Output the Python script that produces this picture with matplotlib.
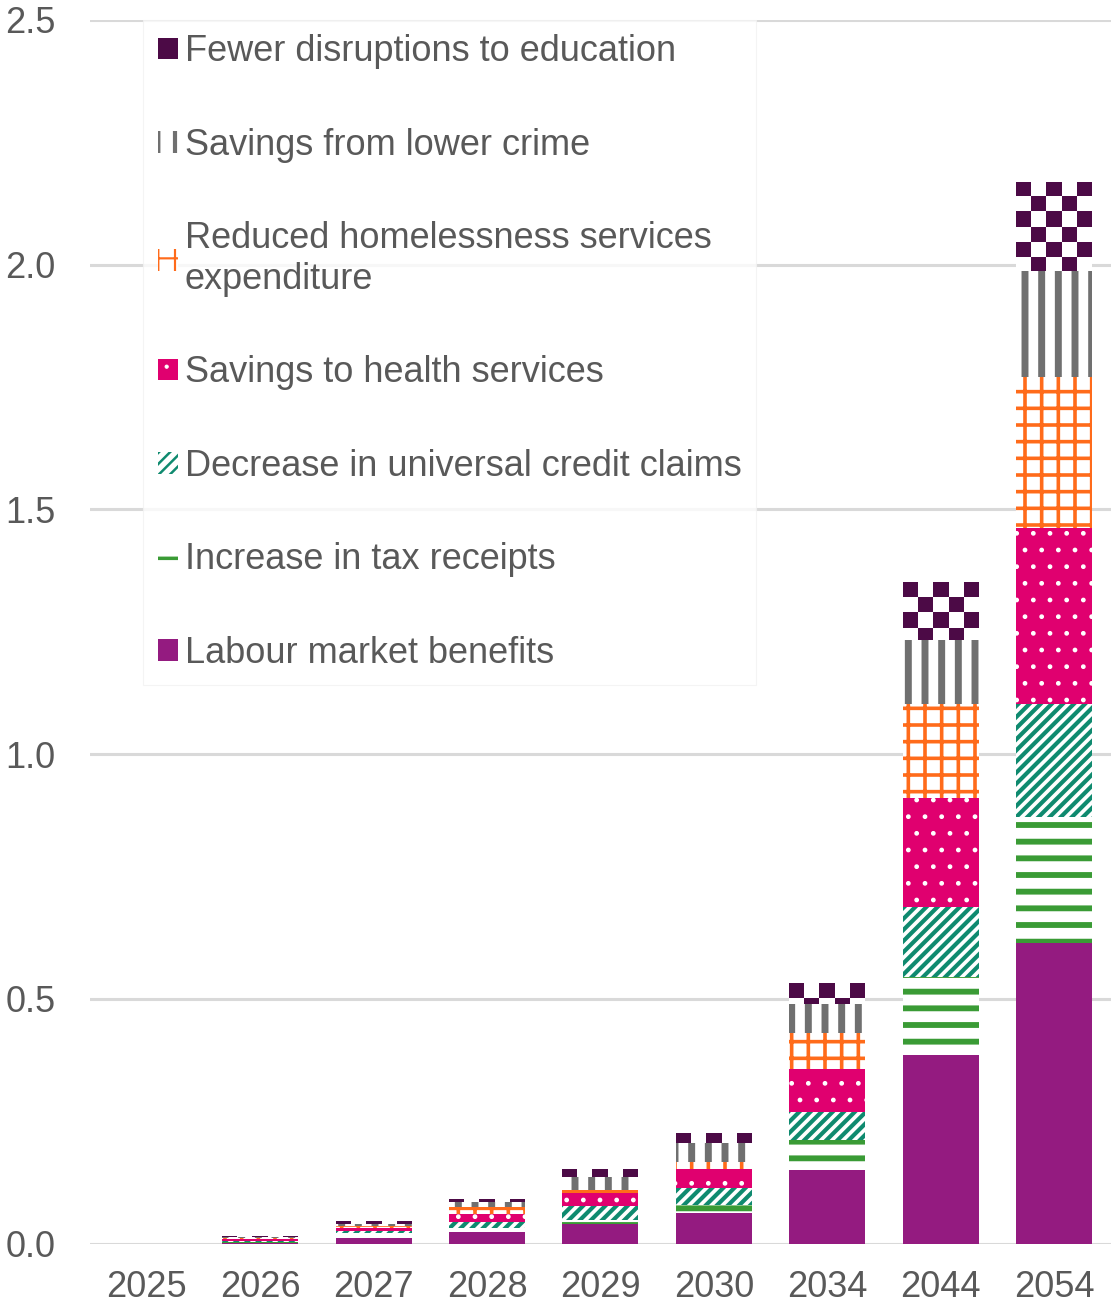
import numpy as np
import matplotlib
matplotlib.use('Agg')
import matplotlib.pyplot as plt

plt.rcParams['font.family'] = ['Liberation Sans', 'DejaVu Sans']

years = ['2025', '2026', '2027', '2028', '2029', '2030', '2034', '2044', '2054']

# benefit components by year, stacked bottom to top
labour    = [0.0, 0.002, 0.012, 0.024, 0.041, 0.062, 0.150, 0.385, 0.615]
tax       = [0.0, 0.002, 0.009, 0.008, 0.008, 0.017, 0.061, 0.160, 0.257]
uc        = [0.0, 0.002, 0.005, 0.013, 0.028, 0.035, 0.058, 0.143, 0.231]
health    = [0.0, 0.003, 0.005, 0.015, 0.026, 0.038, 0.087, 0.223, 0.358]
homeless  = [0.0, 0.002, 0.005, 0.015, 0.007, 0.015, 0.075, 0.192, 0.309]
crime     = [0.0, 0.002, 0.005, 0.010, 0.027, 0.038, 0.058, 0.131, 0.217]
education = [0.0, 0.002, 0.005, 0.007, 0.016, 0.020, 0.043, 0.117, 0.182]

labels = ['Labour market benefits',
          'Increase in tax receipts',
          'Decrease in universal credit claims',
          'Savings to health services',
          'Reduced homelessness services\nexpenditure',
          'Savings from lower crime',
          'Fewer disruptions to education']

# (face, hatch colour, hatch, hatch linewidth)
styles = [('#941b80', '#941b80', None, 1.0),
          ('white', '#3a9b35', '-', 4.2),
          ('white', '#0f8a6f', '///', 3.0),
          ('#e0006f', 'white', '.', 1.0),
          ('white', '#ff6b1a', '+', 2.6),
          ('white', '#707070', '|', 5.0),
          ('#4c0a46', '#4c0a46', None, 1.0)]

series = [labour, tax, uc, health, homeless, crime, education]

fig = plt.figure(figsize=(11.13, 13.06), dpi=100)
ax = fig.add_axes([0.081, 0.0478, 0.917, 0.937])

x = np.arange(len(years))
width = 0.67
bottom = np.zeros(len(years))
containers = []
for vals, lab, (fc, hc, hatch, hlw) in zip(series, labels, styles):
    bars = ax.bar(x, vals, width, bottom=bottom, color=fc, edgecolor=hc,
                  linewidth=0, hatch=hatch, label=lab, zorder=2)
    for b in bars:
        try:
            b.set_hatch_linewidth(hlw)
        except AttributeError:
            pass
    containers.append(bars)
    bottom += np.array(vals)

# checkerboard fill for the education segments
sq_x, sq_y = 0.132, 0.0307
checker = matplotlib.colors.ListedColormap(['#4c0a46', 'white'])
for b in containers[-1]:
    x0, y0, w, h = b.get_x(), b.get_y(), b.get_width(), b.get_height()
    if h <= 0:
        continue
    ncol = int(round(w / sq_x))
    nrow = int(np.ceil(h / sq_y))
    board = (np.add.outer(np.arange(nrow), np.arange(ncol)) % 2).astype(float)
    img = ax.imshow(board, cmap=checker, vmin=0, vmax=1,
                    extent=(x0, x0 + w, y0 + h - nrow * sq_y, y0 + h),
                    aspect='auto', interpolation='nearest', zorder=2.5)
    img.set_clip_path(b)

ax.set_xlim(-0.5, len(years) - 0.5)
ax.set_ylim(0, 2.5)
ax.set_xticks(x)
ax.set_xticklabels(years)
ax.set_yticks([0, 0.5, 1.0, 1.5, 2.0, 2.5])
ax.set_yticklabels(['0.0', '0.5', '1.0', '1.5', '2.0', '2.5'])
ax.tick_params(axis='both', length=0, labelsize=26, colors='#595959')
ax.tick_params(axis='x', pad=19)
ax.tick_params(axis='y', pad=25)
for s in ax.spines.values():
    s.set_visible(False)
ax.yaxis.grid(True, color='#d9d9d9', linewidth=2.2)
ax.set_axisbelow(True)

h, l = ax.get_legend_handles_labels()
leg = ax.legend(h[::-1], l[::-1], loc='upper left', bbox_to_anchor=(0.052, 1.0),
                borderaxespad=0, fontsize=26, labelspacing=1.62,
                handlelength=0.55, handleheight=0.55, handletextpad=0.2,
                borderpad=0.4, frameon=True, fancybox=False,
                labelcolor='#595959')
leg.get_frame().set_edgecolor('#f2f2f2')
leg.get_frame().set_linewidth(0.8)
for patch, (fc, hc, hatch, hlw) in zip(leg.get_patches(), styles[::-1]):
    try:
        patch.set_hatch_linewidth(hlw * 0.6)
    except AttributeError:
        pass

plt.savefig('out.png', dpi=100)
